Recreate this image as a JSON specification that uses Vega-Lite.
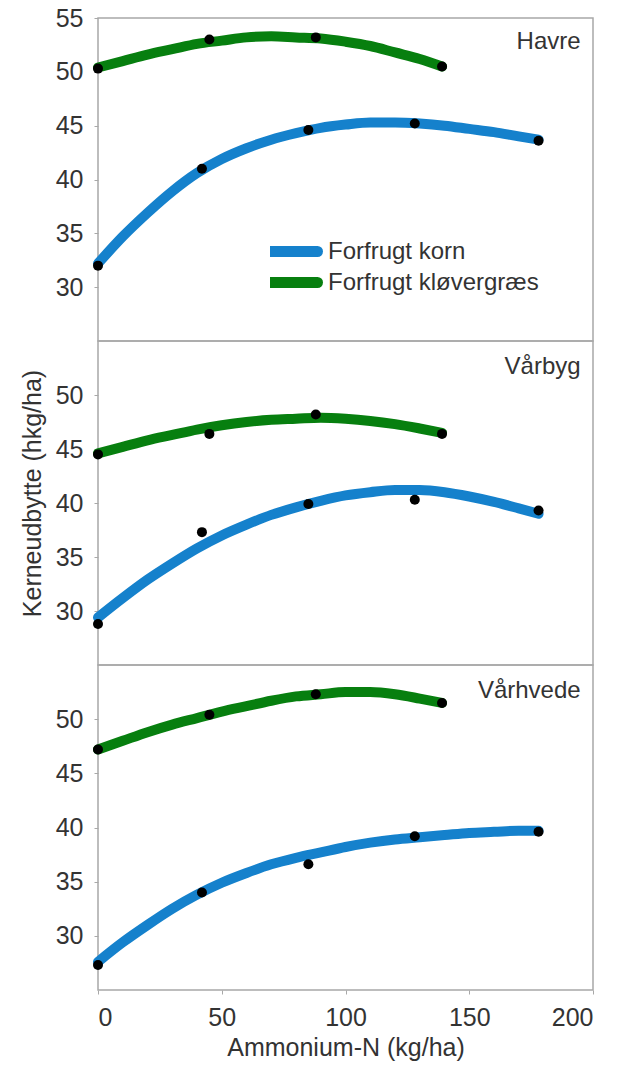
{
  "$schema": "https://vega.github.io/schema/vega-lite/v6.json",
  "background": "white",
  "padding": {"left": 19, "top": 5, "right": 5, "bottom": 5},
  "spacing": 0,
  "bounds": "flush",
  "config": {
    "font": "Liberation Sans",
    "view": {"stroke": "#a8a8a8", "strokeWidth": 1.5},
    "axis": {"labelFont": "Liberation Sans", "labelFontSize": 25, "labelColor": "#333333", "titleFont": "Liberation Sans", "titleFontSize": 25, "titleFontWeight": "normal", "titleColor": "#333333", "tickColor": "#a8a8a8", "tickSize": 4, "domain": false, "grid": false, "labelPadding": 11},
    "legend": {"labelFont": "Liberation Sans", "labelFontSize": 24, "labelColor": "#333333", "labelLimit": 400}
  },
  "datasets": {
    "curves": [
      {"crop":"Havre","series":"Forfrugt korn","N":0,"y":32.2},{"crop":"Havre","series":"Forfrugt korn","N":10,"y":34.7},{"crop":"Havre","series":"Forfrugt korn","N":20,"y":36.9},{"crop":"Havre","series":"Forfrugt korn","N":30,"y":38.9},{"crop":"Havre","series":"Forfrugt korn","N":40,"y":40.6},{"crop":"Havre","series":"Forfrugt korn","N":50,"y":41.9},{"crop":"Havre","series":"Forfrugt korn","N":60,"y":42.9},{"crop":"Havre","series":"Forfrugt korn","N":70,"y":43.7},{"crop":"Havre","series":"Forfrugt korn","N":80,"y":44.3},{"crop":"Havre","series":"Forfrugt korn","N":90,"y":44.8},{"crop":"Havre","series":"Forfrugt korn","N":100,"y":45.1},{"crop":"Havre","series":"Forfrugt korn","N":110,"y":45.3},{"crop":"Havre","series":"Forfrugt korn","N":120,"y":45.3},{"crop":"Havre","series":"Forfrugt korn","N":130,"y":45.2},{"crop":"Havre","series":"Forfrugt korn","N":140,"y":45.0},{"crop":"Havre","series":"Forfrugt korn","N":150,"y":44.7},{"crop":"Havre","series":"Forfrugt korn","N":160,"y":44.4},{"crop":"Havre","series":"Forfrugt korn","N":170,"y":44.0},{"crop":"Havre","series":"Forfrugt korn","N":178,"y":43.7},
      {"crop":"Havre","series":"Forfrugt kløvergræs","N":0,"y":50.4},{"crop":"Havre","series":"Forfrugt kløvergræs","N":10,"y":51.0},{"crop":"Havre","series":"Forfrugt kløvergræs","N":20,"y":51.6},{"crop":"Havre","series":"Forfrugt kløvergræs","N":30,"y":52.1},{"crop":"Havre","series":"Forfrugt kløvergræs","N":40,"y":52.6},{"crop":"Havre","series":"Forfrugt kløvergræs","N":50,"y":52.9},{"crop":"Havre","series":"Forfrugt kløvergræs","N":60,"y":53.2},{"crop":"Havre","series":"Forfrugt kløvergræs","N":70,"y":53.3},{"crop":"Havre","series":"Forfrugt kløvergræs","N":80,"y":53.2},{"crop":"Havre","series":"Forfrugt kløvergræs","N":90,"y":53.1},{"crop":"Havre","series":"Forfrugt kløvergræs","N":100,"y":52.8},{"crop":"Havre","series":"Forfrugt kløvergræs","N":110,"y":52.4},{"crop":"Havre","series":"Forfrugt kløvergræs","N":120,"y":51.8},{"crop":"Havre","series":"Forfrugt kløvergræs","N":130,"y":51.2},{"crop":"Havre","series":"Forfrugt kløvergræs","N":139,"y":50.5},
      {"crop":"Vårbyg","series":"Forfrugt korn","N":0,"y":29.4},{"crop":"Vårbyg","series":"Forfrugt korn","N":10,"y":31.2},{"crop":"Vårbyg","series":"Forfrugt korn","N":20,"y":32.9},{"crop":"Vårbyg","series":"Forfrugt korn","N":30,"y":34.4},{"crop":"Vårbyg","series":"Forfrugt korn","N":40,"y":35.8},{"crop":"Vårbyg","series":"Forfrugt korn","N":50,"y":37.0},{"crop":"Vårbyg","series":"Forfrugt korn","N":60,"y":38.0},{"crop":"Vårbyg","series":"Forfrugt korn","N":70,"y":38.9},{"crop":"Vårbyg","series":"Forfrugt korn","N":80,"y":39.6},{"crop":"Vårbyg","series":"Forfrugt korn","N":90,"y":40.2},{"crop":"Vårbyg","series":"Forfrugt korn","N":100,"y":40.7},{"crop":"Vårbyg","series":"Forfrugt korn","N":110,"y":41.0},{"crop":"Vårbyg","series":"Forfrugt korn","N":120,"y":41.2},{"crop":"Vårbyg","series":"Forfrugt korn","N":130,"y":41.2},{"crop":"Vårbyg","series":"Forfrugt korn","N":140,"y":41.0},{"crop":"Vårbyg","series":"Forfrugt korn","N":150,"y":40.6},{"crop":"Vårbyg","series":"Forfrugt korn","N":160,"y":40.1},{"crop":"Vårbyg","series":"Forfrugt korn","N":170,"y":39.5},{"crop":"Vårbyg","series":"Forfrugt korn","N":178,"y":39.0},
      {"crop":"Vårbyg","series":"Forfrugt kløvergræs","N":0,"y":44.6},{"crop":"Vårbyg","series":"Forfrugt kløvergræs","N":10,"y":45.2},{"crop":"Vårbyg","series":"Forfrugt kløvergræs","N":20,"y":45.8},{"crop":"Vårbyg","series":"Forfrugt kløvergræs","N":30,"y":46.3},{"crop":"Vårbyg","series":"Forfrugt kløvergræs","N":40,"y":46.8},{"crop":"Vårbyg","series":"Forfrugt kløvergræs","N":50,"y":47.2},{"crop":"Vårbyg","series":"Forfrugt kløvergræs","N":60,"y":47.5},{"crop":"Vårbyg","series":"Forfrugt kløvergræs","N":70,"y":47.7},{"crop":"Vårbyg","series":"Forfrugt kløvergræs","N":80,"y":47.8},{"crop":"Vårbyg","series":"Forfrugt kløvergræs","N":90,"y":47.9},{"crop":"Vårbyg","series":"Forfrugt kløvergræs","N":100,"y":47.8},{"crop":"Vårbyg","series":"Forfrugt kløvergræs","N":110,"y":47.6},{"crop":"Vårbyg","series":"Forfrugt kløvergræs","N":120,"y":47.3},{"crop":"Vårbyg","series":"Forfrugt kløvergræs","N":130,"y":46.9},{"crop":"Vårbyg","series":"Forfrugt kløvergræs","N":139,"y":46.5},
      {"crop":"Vårhvede","series":"Forfrugt korn","N":0,"y":27.6},{"crop":"Vårhvede","series":"Forfrugt korn","N":10,"y":29.4},{"crop":"Vårhvede","series":"Forfrugt korn","N":20,"y":31.0},{"crop":"Vårhvede","series":"Forfrugt korn","N":30,"y":32.5},{"crop":"Vårhvede","series":"Forfrugt korn","N":40,"y":33.8},{"crop":"Vårhvede","series":"Forfrugt korn","N":50,"y":34.9},{"crop":"Vårhvede","series":"Forfrugt korn","N":60,"y":35.8},{"crop":"Vårhvede","series":"Forfrugt korn","N":70,"y":36.6},{"crop":"Vårhvede","series":"Forfrugt korn","N":80,"y":37.2},{"crop":"Vårhvede","series":"Forfrugt korn","N":90,"y":37.7},{"crop":"Vårhvede","series":"Forfrugt korn","N":100,"y":38.2},{"crop":"Vårhvede","series":"Forfrugt korn","N":110,"y":38.6},{"crop":"Vårhvede","series":"Forfrugt korn","N":120,"y":38.9},{"crop":"Vårhvede","series":"Forfrugt korn","N":130,"y":39.1},{"crop":"Vårhvede","series":"Forfrugt korn","N":140,"y":39.3},{"crop":"Vårhvede","series":"Forfrugt korn","N":150,"y":39.5},{"crop":"Vårhvede","series":"Forfrugt korn","N":160,"y":39.6},{"crop":"Vårhvede","series":"Forfrugt korn","N":170,"y":39.7},{"crop":"Vårhvede","series":"Forfrugt korn","N":178,"y":39.7},
      {"crop":"Vårhvede","series":"Forfrugt kløvergræs","N":0,"y":47.2},{"crop":"Vårhvede","series":"Forfrugt kløvergræs","N":10,"y":48.0},{"crop":"Vårhvede","series":"Forfrugt kløvergræs","N":20,"y":48.8},{"crop":"Vårhvede","series":"Forfrugt kløvergræs","N":30,"y":49.5},{"crop":"Vårhvede","series":"Forfrugt kløvergræs","N":40,"y":50.1},{"crop":"Vårhvede","series":"Forfrugt kløvergræs","N":50,"y":50.7},{"crop":"Vårhvede","series":"Forfrugt kløvergræs","N":60,"y":51.2},{"crop":"Vårhvede","series":"Forfrugt kløvergræs","N":70,"y":51.7},{"crop":"Vårhvede","series":"Forfrugt kløvergræs","N":80,"y":52.1},{"crop":"Vårhvede","series":"Forfrugt kløvergræs","N":90,"y":52.3},{"crop":"Vårhvede","series":"Forfrugt kløvergræs","N":100,"y":52.5},{"crop":"Vårhvede","series":"Forfrugt kløvergræs","N":110,"y":52.5},{"crop":"Vårhvede","series":"Forfrugt kløvergræs","N":120,"y":52.3},{"crop":"Vårhvede","series":"Forfrugt kløvergræs","N":130,"y":51.9},{"crop":"Vårhvede","series":"Forfrugt kløvergræs","N":139,"y":51.5}
    ],
    "points": [
      {"crop":"Havre","series":"Forfrugt korn","N":0,"y":32.0},{"crop":"Havre","series":"Forfrugt korn","N":42,"y":41.0},{"crop":"Havre","series":"Forfrugt korn","N":85,"y":44.6},{"crop":"Havre","series":"Forfrugt korn","N":128,"y":45.2},{"crop":"Havre","series":"Forfrugt korn","N":178,"y":43.6},
      {"crop":"Havre","series":"Forfrugt kløvergræs","N":0,"y":50.3},{"crop":"Havre","series":"Forfrugt kløvergræs","N":45,"y":53.0},{"crop":"Havre","series":"Forfrugt kløvergræs","N":88,"y":53.2},{"crop":"Havre","series":"Forfrugt kløvergræs","N":139,"y":50.5},
      {"crop":"Vårbyg","series":"Forfrugt korn","N":0,"y":28.8},{"crop":"Vårbyg","series":"Forfrugt korn","N":42,"y":37.3},{"crop":"Vårbyg","series":"Forfrugt korn","N":85,"y":39.9},{"crop":"Vårbyg","series":"Forfrugt korn","N":128,"y":40.3},{"crop":"Vårbyg","series":"Forfrugt korn","N":178,"y":39.3},
      {"crop":"Vårbyg","series":"Forfrugt kløvergræs","N":0,"y":44.5},{"crop":"Vårbyg","series":"Forfrugt kløvergræs","N":45,"y":46.4},{"crop":"Vårbyg","series":"Forfrugt kløvergræs","N":88,"y":48.2},{"crop":"Vårbyg","series":"Forfrugt kløvergræs","N":139,"y":46.4},
      {"crop":"Vårhvede","series":"Forfrugt korn","N":0,"y":27.3},{"crop":"Vårhvede","series":"Forfrugt korn","N":42,"y":34.0},{"crop":"Vårhvede","series":"Forfrugt korn","N":85,"y":36.6},{"crop":"Vårhvede","series":"Forfrugt korn","N":128,"y":39.2},{"crop":"Vårhvede","series":"Forfrugt korn","N":178,"y":39.6},
      {"crop":"Vårhvede","series":"Forfrugt kløvergræs","N":0,"y":47.2},{"crop":"Vårhvede","series":"Forfrugt kløvergræs","N":45,"y":50.4},{"crop":"Vårhvede","series":"Forfrugt kløvergræs","N":88,"y":52.3},{"crop":"Vårhvede","series":"Forfrugt kløvergræs","N":139,"y":51.5}
    ]
  },
  "vconcat": [
    {
      "width": 495, "height": 323,
      "layer": [
        {"data": {"name": "curves"}, "transform": [{"filter": "datum.crop === 'Havre'"}],
         "mark": {"type": "line", "strokeWidth": 10, "strokeCap": "round", "interpolate": "monotone"},
         "encoding": {
           "x": {"field": "N", "type": "quantitative", "scale": {"domain": [0, 200], "nice": false}, "axis": null},
           "y": {"field": "y", "type": "quantitative", "scale": {"domain": [25, 55], "nice": false, "zero": false}, "axis": {"values": [30, 35, 40, 45, 50, 55], "title": null}},
           "color": {"field": "series", "type": "nominal", "scale": {"domain": ["Forfrugt korn", "Forfrugt kløvergræs"], "range": ["#1581cc", "#077f0f"]},
                     "legend": {"orient": "none", "legendX": 172, "legendY": 218, "title": null, "symbolType": "M-3.2,0H3.2", "symbolStrokeWidth": 11, "symbolSize": 400, "labelFontSize": 24, "labelOffset": 27, "rowPadding": 0, "clipHeight": 31, "labelLimit": 400,
                                "encode": {"symbols": {"update": {"strokeCap": {"value": "round"}}}}}}
         }},
        {"data": {"name": "points"}, "transform": [{"filter": "datum.crop === 'Havre'"}],
         "mark": {"type": "circle", "size": 100, "color": "black", "opacity": 1},
         "encoding": {"x": {"field": "N", "type": "quantitative"}, "y": {"field": "y", "type": "quantitative"}}},
        {"data": {"values": [{"crop": "Havre"}]},
         "mark": {"type": "text", "align": "right", "baseline": "middle", "fontSize": 24, "color": "#333333"},
         "encoding": {"x": {"datum": 195}, "y": {"datum": 52.8}, "text": {"field": "crop"}}}
      ]
    },
    {
      "width": 495, "height": 324,
      "layer": [
        {"data": {"name": "curves"}, "transform": [{"filter": "datum.crop === 'Vårbyg'"}],
         "mark": {"type": "line", "strokeWidth": 10, "strokeCap": "round", "interpolate": "monotone"},
         "encoding": {
           "x": {"field": "N", "type": "quantitative", "scale": {"domain": [0, 200], "nice": false}, "axis": null},
           "y": {"field": "y", "type": "quantitative", "scale": {"domain": [25, 55], "nice": false, "zero": false}, "axis": {"values": [30, 35, 40, 45, 50], "title": "Kerneudbytte (hkg/ha)", "titlePadding": 10, "titleY": 152}},
           "color": {"field": "series", "type": "nominal"}
         }},
        {"data": {"name": "points"}, "transform": [{"filter": "datum.crop === 'Vårbyg'"}],
         "mark": {"type": "circle", "size": 100, "color": "black", "opacity": 1},
         "encoding": {"x": {"field": "N", "type": "quantitative"}, "y": {"field": "y", "type": "quantitative"}}},
        {"data": {"values": [{"crop": "Vårbyg"}]},
         "mark": {"type": "text", "align": "right", "baseline": "middle", "fontSize": 24, "color": "#333333"},
         "encoding": {"x": {"datum": 195}, "y": {"datum": 52.6}, "text": {"field": "crop"}}}
      ]
    },
    {
      "width": 495, "height": 325,
      "layer": [
        {"data": {"name": "curves"}, "transform": [{"filter": "datum.crop === 'Vårhvede'"}],
         "mark": {"type": "line", "strokeWidth": 10, "strokeCap": "round", "interpolate": "monotone"},
         "encoding": {
           "x": {"field": "N", "type": "quantitative", "scale": {"domain": [0, 200], "nice": false}, "axis": {"values": [0, 50, 100, 150, 200], "title": "Ammonium-N (kg/ha)", "titlePadding": 5}},
           "y": {"field": "y", "type": "quantitative", "scale": {"domain": [25, 55], "nice": false, "zero": false}, "axis": {"values": [30, 35, 40, 45, 50], "title": null}},
           "color": {"field": "series", "type": "nominal"}
         }},
        {"data": {"name": "points"}, "transform": [{"filter": "datum.crop === 'Vårhvede'"}],
         "mark": {"type": "circle", "size": 100, "color": "black", "opacity": 1},
         "encoding": {"x": {"field": "N", "type": "quantitative"}, "y": {"field": "y", "type": "quantitative"}}},
        {"data": {"values": [{"crop": "Vårhvede"}]},
         "mark": {"type": "text", "align": "right", "baseline": "middle", "fontSize": 24, "color": "#333333"},
         "encoding": {"x": {"datum": 195}, "y": {"datum": 52.6}, "text": {"field": "crop"}}}
      ]
    }
  ]
}
